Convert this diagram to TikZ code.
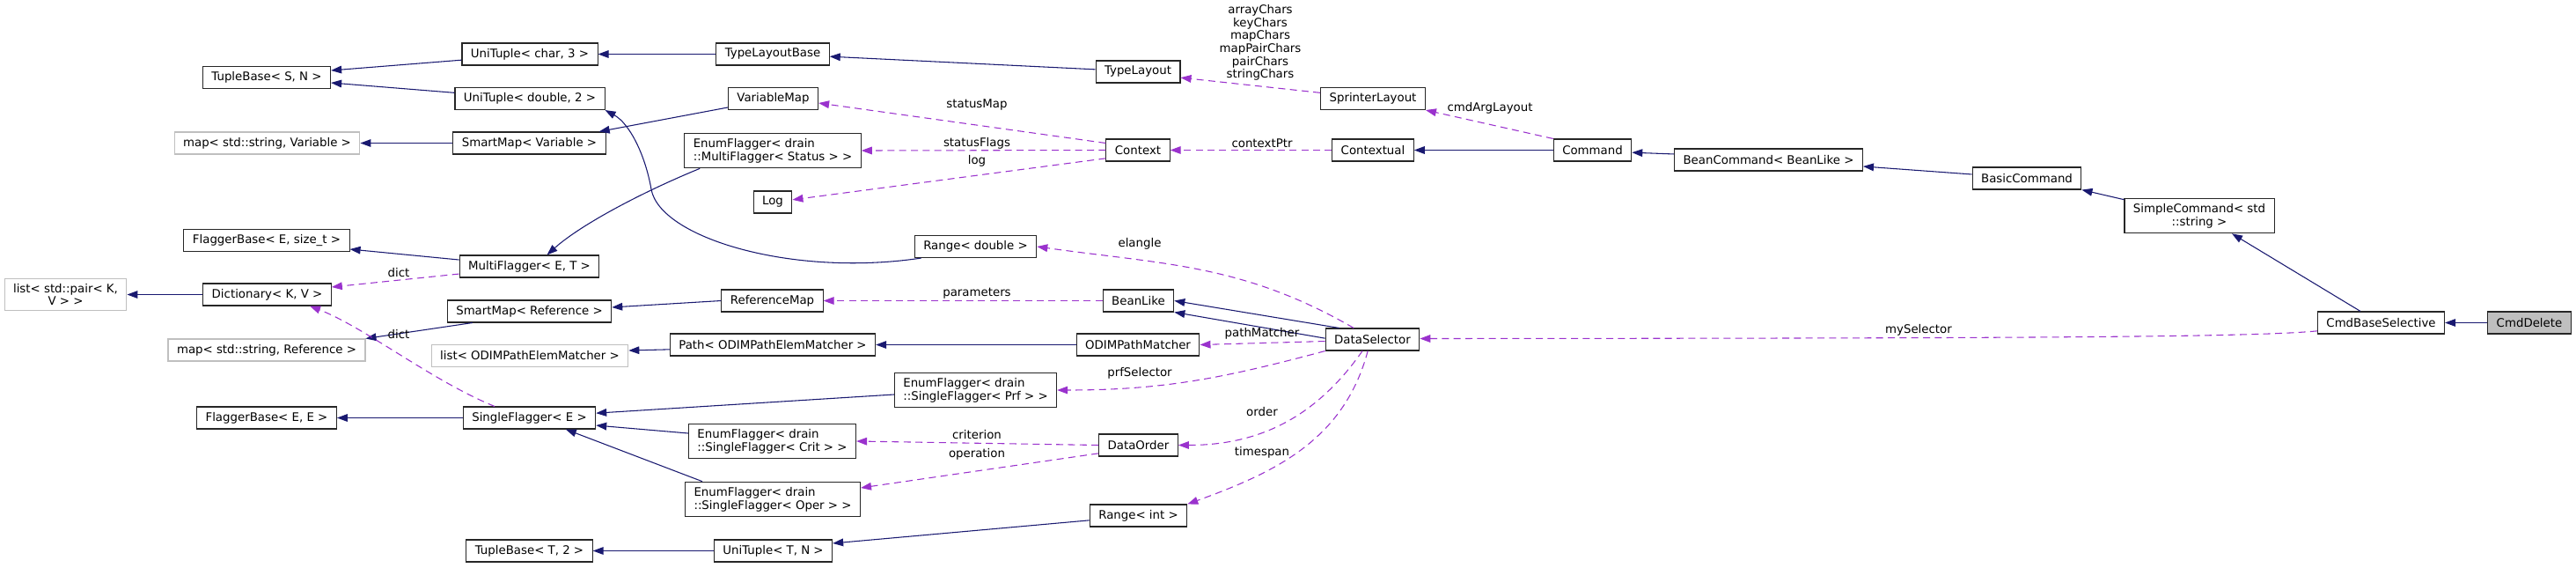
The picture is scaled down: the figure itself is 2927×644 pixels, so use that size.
\documentclass[tikz,border=0pt]{standalone}
\usepackage{fontspec}
\setmainfont{DejaVu Sans}
\usetikzlibrary{arrows.meta,positioning,calc}
\definecolor{inhblue}{HTML}{191970}
\definecolor{usepurple}{HTML}{9A32CD}
\definecolor{extgray}{HTML}{BFBFBF}

\begin{document}
\begin{tikzpicture}[
  x=0.75pt, y=-0.75pt,
  cls/.style={draw=black!85, line width=0.8pt, fill=white, font=\fontsize{10}{11}\selectfont,
              inner xsep=7.5pt, inner ysep=4.5pt, minimum height=18.75pt, align=center},
  ext/.style={cls, draw=extgray},
  cur/.style={cls, fill=extgray},
  lft/.style={align=left},
  lbl/.style={font=\fontsize{10}{11}\selectfont, inner sep=0pt, align=center},
  inh/.style={inhblue, line width=0.8pt, -{Triangle[length=9pt,width=6.5pt]}},
  usg/.style={usepurple, line width=0.8pt, dash pattern=on 6pt off 4pt, -{Triangle[length=9pt,width=6.5pt]}}
]
\useasboundingbox (0,0) rectangle (2927,644);

% ======= tuples, maps, flaggers =======
\node[cls] (tupSN)    at (303,88)       {TupleBase< S, N >};
\node[cls] (uniChar)  at (602,61.5)     {UniTuple< char, 3 >};
\node[cls] (uniDbl)   at (602,112)      {UniTuple< double, 2 >};
\node[ext] (mapVar)   at (303.5,162.5)  {map< std::string, Variable >};
\node[cls] (smVar)    at (601.5,162.5)  {SmartMap< Variable >};
\node[cls] (fbSize)   at (303,273)      {FlaggerBase< E, size\_t >};
\node[cls] (multiFl)  at (601.5,302.5)  {MultiFlagger< E, T >};
\node[ext] (listPair) at (74.5,334.5)   {list< std::pair< K,\\ V > >};
\node[cls] (dictKV)   at (303.5,334.5)  {Dictionary< K, V >};
\node[cls] (smRef)    at (601.5,353.5)  {SmartMap< Reference >};
\node[ext] (mapRef)   at (303,397.5)    {map< std::string, Reference >};
\node[ext] (listOdim) at (602,404)      {list< ODIMPathElemMatcher >};
\node[cls] (fbEE)     at (303,474.5)    {FlaggerBase< E, E >};
\node[cls] (single)   at (601.5,474.5)  {SingleFlagger< E >};
\node[cls] (tupT2)    at (601.5,625.5)  {TupleBase< T, 2 >};

% ======= middle column =======
\node[cls] (tlBase)       at (878,61.5)    {TypeLayoutBase};
\node[cls] (varMap)       at (878.5,112)   {VariableMap};
\node[cls,lft] (efStatus) at (878,171)     {EnumFlagger< drain\\::MultiFlagger< Status > >};
\node[cls] (logN)         at (878,229.5)   {Log};
\node[cls] (rangeDbl)     at (1108.5,280)  {Range< double >};
\node[cls] (refMap)       at (877.5,341.5) {ReferenceMap};
\node[cls] (pathOdim)     at (878,391.5)   {Path< ODIMPathElemMatcher >};
\node[cls,lft] (efPrf)    at (1108.5,443)  {EnumFlagger< drain\\::SingleFlagger< Prf > >};
\node[cls,lft] (efCrit)   at (877.5,501)   {EnumFlagger< drain\\::SingleFlagger< Crit > >};
\node[cls,lft] (efOper)   at (878,567)     {EnumFlagger< drain\\::SingleFlagger< Oper > >};
\node[cls] (uniTN)        at (878.5,625.5) {UniTuple< T, N >};

\node[cls] (typeLay)   at (1293,81.5)    {TypeLayout};
\node[cls] (context)   at (1293,170.5)   {Context};
\node[cls] (beanLike)  at (1293.5,341.5) {BeanLike};
\node[cls] (odimPM)    at (1293,391.5)   {ODIMPathMatcher};
\node[cls] (dataOrder) at (1293.5,505.5) {DataOrder};
\node[cls] (rangeInt)  at (1293.5,585.5) {Range< int >};

\node[cls] (sprinter)   at (1560,112)    {SprinterLayout};
\node[cls] (contextual) at (1560,170.5)  {Contextual};
\node[cls] (dataSel)    at (1559.5,385.5) {DataSelector};

% ======= command chain =======
\node[cls] (command)   at (1809.5,170.5) {Command};
\node[cls] (beanCmd)   at (2009.5,181.5) {BeanCommand< BeanLike >};
\node[cls] (basicCmd)  at (2303,202.5)   {BasicCommand};
\node[cls] (simpleCmd) at (2499,245)     {SimpleCommand< std\\::string >};
\node[cls] (cmdBase)   at (2705.5,366.5) {CmdBaseSelective};
\node[cur] (cmdDel)    at (2874,366.5)   {CmdDelete};

% ======= inheritance =======
\draw[inh] ([yshift=-5pt]uniChar.west) -- ([yshift=6pt]tupSN.east);
\draw[inh] ([yshift=5pt]uniDbl.west) -- ([yshift=-4.5pt]tupSN.east);
\draw[inh] (tlBase.west) -- (uniChar.east);
\draw[inh] ([yshift=2pt]typeLay.west) -- ([yshift=-2pt]tlBase.east);
\draw[inh] ([yshift=-7.5pt]varMap.west) -- ([xshift=-6pt]smVar.north east);
\draw[inh] (smVar.west) -- (mapVar.east);
\draw[inh] ([xshift=13.5pt]efStatus.south west) .. controls (730,218) and (660,255) .. ([xshift=15pt]multiFl.north);
\draw[inh] ([yshift=5.6pt]multiFl.west) -- ([yshift=-7.5pt]fbSize.east);
\draw[inh] (dictKV.west) -- (listPair.east);
\draw[inh] ([xshift=6pt]rangeDbl.south west) .. controls (900,315) and (750,270) .. (740,215)
           .. controls (733,175) and (715,140) .. (uniDbl.south east);
\draw[inh] ([yshift=4.9pt]beanCmd.west) -- ([yshift=-2pt]command.east);
\draw[inh] (command.west) -- (contextual.east);
\draw[inh] ([yshift=3.4pt]basicCmd.west) -- ([yshift=-5.6pt]beanCmd.east);
\draw[inh] ([yshift=-1.5pt]simpleCmd.north west) -- (basicCmd.south east);
\draw[inh] ([xshift=-17.6pt]cmdBase.north) -- ([xshift=27.75pt]simpleCmd.south);
\draw[inh] (cmdDel.west) -- (cmdBase.east);
\draw[inh] ([xshift=12pt]dataSel.north west) -- (beanLike.east);
\draw[inh] ([yshift=1pt]dataSel.west) -- (beanLike.south east);
\draw[inh] (refMap.west) -- ([yshift=3.4pt]smRef.east);
\draw[inh] ([xshift=21.75pt]smRef.south west) -- (mapRef.north east);
\draw[inh] (odimPM.west) -- (pathOdim.east);
\draw[inh] ([yshift=-4pt]pathOdim.west) -- ([yshift=4.5pt]listOdim.east);
\draw[inh] ([yshift=-3.75pt]efPrf.west) -- ([yshift=4pt]single.east);
\draw[inh] ([yshift=6.75pt]efCrit.west) -- ([yshift=-6.4pt]single.east);
\draw[inh] ([xshift=15pt]efOper.north west) -- ([xshift=31pt]single.south);
\draw[inh] (single.west) -- (fbEE.east);
\draw[inh] ([yshift=-4pt]rangeInt.west) -- ([yshift=6.4pt]uniTN.east);
\draw[inh] (uniTN.west) -- (tupT2.east);

% ======= usage =======
\draw[usg] ([yshift=5pt]sprinter.west) -- ([yshift=-5pt]typeLay.east);
\draw[usg] (command.north west) -- (sprinter.south east);
\draw[usg] (contextual.west) -- (context.east);
\draw[usg] ([yshift=6pt]context.west) -- ([yshift=-3.75pt]varMap.east);
\draw[usg] (context.west) -- (efStatus.east);
\draw[usg] ([yshift=-7pt]context.west) -- ([yshift=2pt]logN.east);
\draw[usg] ([yshift=-6.4pt]multiFl.west) -- ([yshift=6.4pt]dictKV.east);
\draw[usg] ([xshift=-29.6pt]single.north) .. controls (490,432) and (415,372) .. ([xshift=36.4pt]dictKV.south);
\draw[usg] (beanLike.west) -- (refMap.east);
\draw[usg] ([yshift=-7pt]cmdBase.west) .. controls (2560,383) and (2300,384) .. ([yshift=0.75pt]dataSel.east);
\draw[usg] ([xshift=-16pt]dataSel.north) to[out=150,in=-8] (rangeDbl.east);
\draw[usg] ([yshift=-1.5pt]dataSel.west) -- (odimPM.east);
\draw[usg] (dataSel.south west) to[out=195,in=0] (efPrf.east);
\draw[usg] ([xshift=-8.6pt]dataSel.south) to[out=235,in=0] (dataOrder.east);
\draw[usg] ([xshift=-4pt]dataSel.south) to[out=255,in=20] (rangeInt.north east);
\draw[usg] (dataOrder.west) -- (efCrit.east);
\draw[usg] ([yshift=-7pt]dataOrder.west) -- ([yshift=9.75pt]efOper.east);

% ======= edge labels =======
\node[lbl] (lChars)   at (1432,48.5) {arrayChars\\keyChars\\mapChars\\mapPairChars\\pairChars\\stringChars};
\node[lbl] (lCmdArg)  at (1693,123)  {cmdArgLayout};
\node[lbl] (lCtxPtr)  at (1434,163)  {contextPtr};
\node[lbl] (lStatMap) at (1110,119)  {statusMap};
\node[lbl] (lStatFl)  at (1110,163)  {statusFlags};
\node[lbl] (lLog)     at (1110,183)  {log};
\node[lbl] (lDictA)   at (453,310)   {dict};
\node[lbl] (lDictB)   at (453,380)   {dict};
\node[lbl] (lElangle) at (1295,277)  {elangle};
\node[lbl] (lParams)  at (1110,333)  {parameters};
\node[lbl] (lPathM)   at (1434,379)  {pathMatcher};
\node[lbl] (lPrf)     at (1295,424)  {prfSelector};
\node[lbl] (lOrder)   at (1434,468)  {order};
\node[lbl] (lCrit)    at (1110,494)  {criterion};
\node[lbl] (lOper)    at (1110,516)  {operation};
\node[lbl] (lTime)    at (1434,514)  {timespan};
\node[lbl] (lMySel)   at (2180,375)  {mySelector};

\end{tikzpicture}
\end{document}
